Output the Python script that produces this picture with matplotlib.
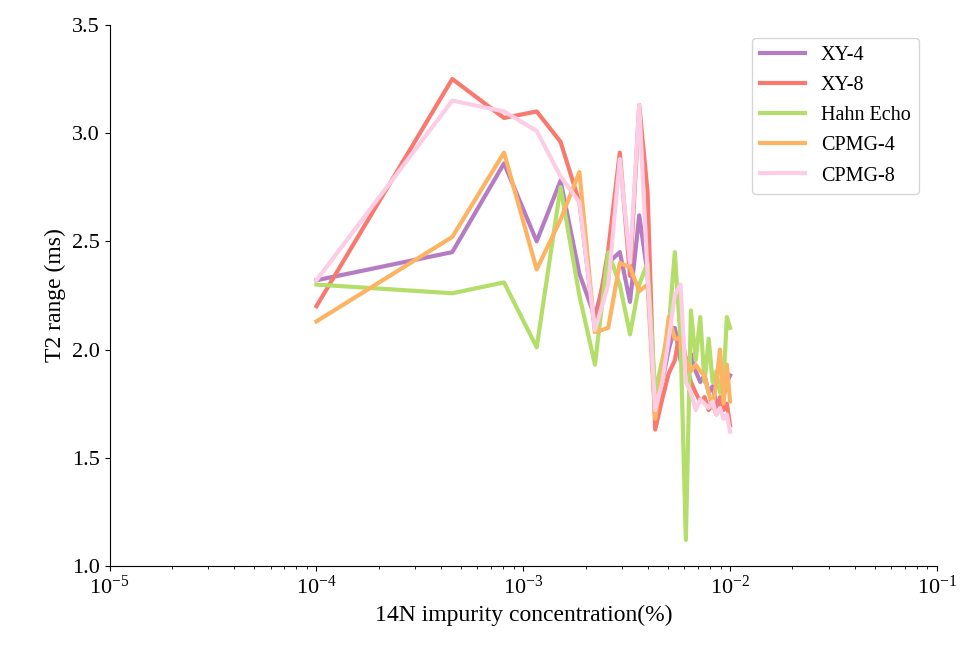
import matplotlib
matplotlib.use("Agg")
import matplotlib.pyplot as plt

plt.rcParams["font.family"] = ["Liberation Serif", "DejaVu Serif"]
plt.rcParams["mathtext.fontset"] = "stix"

conc = [1.000e-4, 4.536e-4, 8.071e-4, 1.161e-3, 1.514e-3, 1.868e-3, 2.221e-3,
        2.575e-3, 2.929e-3, 3.282e-3, 3.636e-3, 3.989e-3, 4.343e-3, 4.696e-3,
        5.050e-3, 5.404e-3, 5.757e-3, 6.111e-3, 6.464e-3, 6.818e-3, 7.171e-3,
        7.525e-3, 7.879e-3, 8.232e-3, 8.586e-3, 8.939e-3, 9.293e-3, 9.646e-3,
        1.000e-2]

xy4 = [2.32, 2.45, 2.86, 2.50, 2.78, 2.35, 2.15, 2.40, 2.45, 2.22, 2.62, 2.35,
       1.70, 1.85, 2.00, 2.10, 1.95, 1.92, 1.98, 1.90, 1.85, 1.88, 1.80, 1.83,
       1.75, 1.72, 1.78, 1.85, 1.88]
xy8 = [2.20, 3.25, 3.07, 3.10, 2.96, 2.68, 2.09, 2.46, 2.91, 2.34, 3.13, 2.73,
       1.63, 1.77, 1.89, 1.95, 2.10, 1.95, 1.85, 1.80, 1.76, 1.78, 1.72, 1.75,
       1.70, 1.78, 1.72, 1.75, 1.65]
hahn = [2.30, 2.26, 2.31, 2.01, 2.75, 2.25, 1.93, 2.45, 2.30, 2.07, 2.30, 2.40,
        1.80, 1.95, 2.10, 2.45, 2.05, 1.12, 2.18, 1.95, 2.15, 1.85, 2.05, 1.85,
        1.90, 1.80, 1.85, 2.15, 2.10]
cpmg4 = [2.13, 2.52, 2.91, 2.37, 2.60, 2.82, 2.08, 2.10, 2.40, 2.38, 2.27, 2.30,
         1.68, 1.90, 2.15, 2.05, 2.05, 1.95, 1.90, 1.93, 1.90, 1.88, 1.80, 1.73,
         1.85, 2.00, 1.75, 1.93, 1.76]
cpmg8 = [2.32, 3.15, 3.10, 3.01, 2.80, 2.68, 2.09, 2.30, 2.88, 2.40, 3.13, 2.35,
         1.72, 1.85, 2.05, 2.25, 2.30, 1.85, 1.80, 1.72, 1.77, 1.75, 1.73, 1.76,
         1.70, 1.73, 1.68, 1.70, 1.62]

series = [("XY-4", xy4, "#b57cc4"), ("XY-8", xy8, "#f9796f"),
          ("Hahn Echo", hahn, "#b3de69"), ("CPMG-4", cpmg4, "#fdb462"),
          ("CPMG-8", cpmg8, "#fccde5")]

fig, ax = plt.subplots(figsize=(9.79, 6.55), dpi=100)
for name, vals, color in series:
    ax.plot(conc, vals, color=color, linewidth=3, label=name)

ax.set_xscale("log")
ax.set_xlim(1e-5, 1e-1)
ax.set_ylim(1.0, 3.5)
ax.set_xlabel("14N impurity concentration(%)", fontsize=17)
ax.set_ylabel("T2 range (ms)", fontsize=17)
ax.tick_params(labelsize=16)
ax.spines["top"].set_visible(False)
ax.spines["right"].set_visible(False)
ax.legend(loc="upper right", fontsize=14.5, bbox_to_anchor=(0.99, 0.995),
          handlelength=2.2, labelspacing=0.55)
fig.subplots_adjust(left=0.112, right=0.957, bottom=0.136, top=0.962)
fig.savefig("out.png", dpi=100)
